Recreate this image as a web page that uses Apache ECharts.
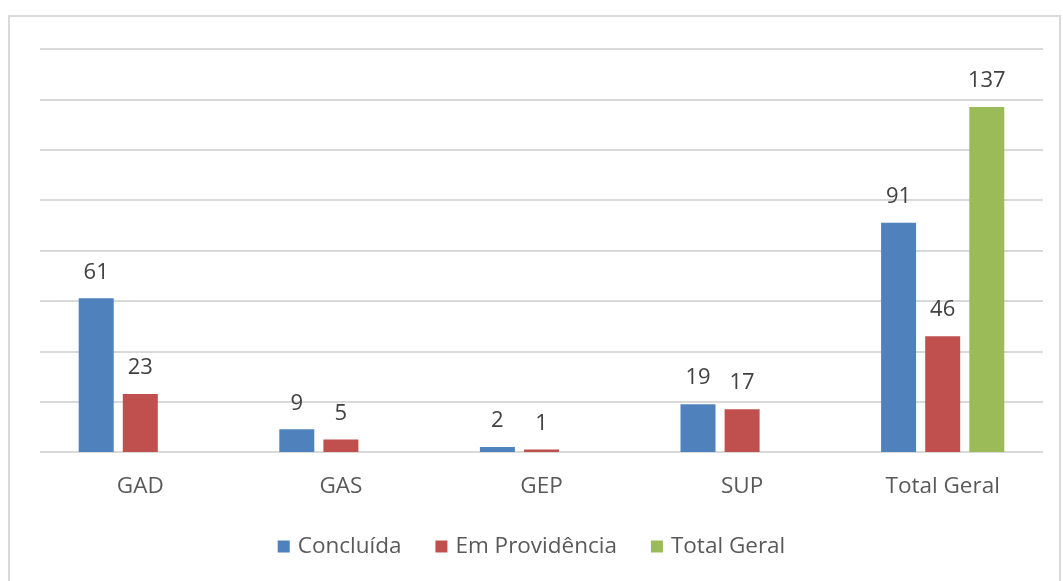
<!DOCTYPE html>
<html>
<head>
<meta charset="utf-8">
<script src="https://cdn.jsdelivr.net/npm/echarts@6/dist/echarts.min.js"></script>
<style>
  html, body { margin: 0; padding: 0; background: #fff; }
  .wrap { position: relative; width: 1063px; height: 581px; overflow: hidden; }
  .frame {
    position: absolute; left: 8px; top: 15px; width: 1053px; height: 620px;
    border: 2px solid #d9d9d9; box-sizing: border-box;
  }
  #main { position: absolute; left: 0; top: 0; width: 1063px; height: 581px; }
</style>
</head>
<body>
<div class="wrap">
  <div class="frame"></div>
  <div id="main"></div>
</div>
<script>
// categorias e valores
var categories = ['GAD', 'GAS', 'GEP', 'SUP', 'Total Geral'];
var concluida = [61, 9, 2, 19, 91];
var emProvidencia = [23, 5, 1, 17, 46];
var totalGeral = [null, null, null, null, 137];

var font = '"Open Sans", "Noto Sans", sans-serif';

var labelStyle = {
  show: true,
  position: 'top',
  distance: 15,
  color: '#404040',
  fontSize: 22,
  fontFamily: font
};

var myChart = echarts.init(document.getElementById('main'));
myChart.setOption({
  animation: false,
  color: ['#4f81bd', '#c0504d', '#9bbb59'],
  grid: { left: 40, right: 20, top: 49, bottom: 129 },
  legend: {
    bottom: 18,
    left: 'center',
    itemWidth: 12,
    itemHeight: 12,
    itemGap: 34,
    icon: 'rect',
    textStyle: { color: '#595959', fontSize: 22.5, fontFamily: font, padding: [0, 0, 0, 3] },
    data: ['Concluída', 'Em Providência', 'Total Geral']
  },
  xAxis: {
    type: 'category',
    data: categories,
    axisLine: { show: false },
    axisTick: { show: false },
    axisLabel: { color: '#595959', fontSize: 22.5, fontFamily: font, margin: 23 }
  },
  yAxis: {
    type: 'value',
    min: 0,
    max: 160,
    interval: 20,
    axisLine: { show: false },
    axisTick: { show: false },
    axisLabel: { show: false },
    splitLine: { lineStyle: { color: '#d9d9d9', width: 2 } }
  },
  series: [{
    name: 'Concluída',
    type: 'bar',
    barWidth: 35,
    barGap: '26%',
    label: labelStyle,
    data: concluida
  }, {
    name: 'Em Providência',
    type: 'bar',
    barWidth: 35,
    barGap: '26%',
    label: labelStyle,
    data: emProvidencia
  }, {
    name: 'Total Geral',
    type: 'bar',
    barWidth: 35,
    barGap: '26%',
    label: labelStyle,
    data: totalGeral
  }]
});
</script>
</body>
</html>
